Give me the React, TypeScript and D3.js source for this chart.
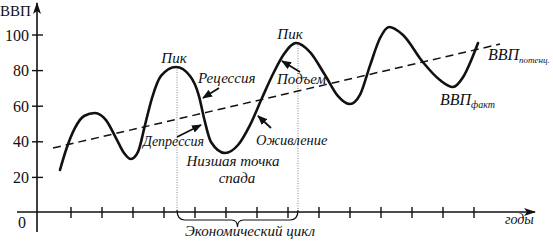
import React from "react";
import * as d3 from "d3";

// Actual GDP curve (x in "years", y in GDP units)
const gdpX = [0.645, 0.839, 1.129, 1.419, 1.774, 2.129, 2.452, 2.71, 2.935, 3.161, 3.387, 3.613, 3.903, 4.387, 4.839, 5.129, 5.29, 5.516, 5.968, 6.387, 6.774, 7.161, 7.548, 7.871, 8.258, 8.71, 9.194, 9.613, 10.0, 10.32, 10.65, 10.97, 11.26, 11.71, 12.35, 12.9, 13.32, 13.65, 13.94, 14.13];
const gdpY = [24.2, 35.4, 47.8, 54.5, 56.2, 52.2, 42.1, 33.7, 30.3, 34.3, 49.4, 64.6, 77.0, 82.0, 77.0, 65.7, 53.4, 39.9, 33.7, 38.2, 49.4, 64.6, 79.2, 89.3, 95.5, 90.4, 77.5, 65.7, 61.2, 66.3, 83.1, 98.3, 104.5, 100.0, 84.8, 74.7, 70.8, 76.4, 87.1, 95.5];

// Potential GDP trend line
const trendX = [0.42, 14.84];
const trendY = [36.5, 94.9];

// Axis ticks
const yTicks = [20, 40, 60, 80, 100];
const xTicks = [1, 2, 3, 4, 5, 6, 7, 8, 9, 10, 11, 12, 13, 14];

// Peaks marking the economic cycle
const cycleStart = 4.387;
const cycleEnd = 8.258;

const W = 553;
const H = 241;
const serif = "Liberation Serif, DejaVu Serif, Times New Roman, serif";

export default function App() {
  const x = d3.scaleLinear().domain([0, 16]).range([40, 536]);
  const y = d3.scaleLinear().domain([0, 100]).range([213, 35]);
  const axisX = 37;
  const axisY = 212;

  const pts: [number, number][] = gdpX.map((v, i) => [v, gdpY[i]]);
  const line = d3
    .line<[number, number]>()
    .x((d) => x(d[0]))
    .y((d) => y(d[1]))
    .curve(d3.curveMonotoneX);
  const gdpPath = line(pts) || "";

  const trendPts: [number, number][] = trendX.map((v, i) => [v, trendY[i]]);
  const trendPath = d3
    .line<[number, number]>()
    .x((d) => x(d[0]))
    .y((d) => y(d[1]))(trendPts) || "";

  const peak1Y = y(gdpY[gdpX.indexOf(cycleStart)]);
  const peak2Y = y(gdpY[gdpX.indexOf(cycleEnd)]);
  const bx1 = x(cycleStart) + 1;
  const bx2 = x(cycleEnd) + 2;
  const bm = (bx1 + bx2) / 2;
  const bTop = 210;
  const bMid = 220;
  const bTip = 227;
  const bracePath = `M${bx1},${bTop} Q${bx1},${bMid} ${bx1 + 8},${bMid} L${bm - 6},${bMid} Q${bm},${bMid} ${bm},${bTip} Q${bm},${bMid} ${bm + 6},${bMid} L${bx2 - 8},${bMid} Q${bx2},${bMid} ${bx2},${bTop}`;

  const arrows = [
    { x1: 219, y1: 88, x2: 203, y2: 98 },
    { x1: 300, y1: 72, x2: 282, y2: 61 },
    { x1: 177, y1: 137, x2: 201, y2: 125 },
    { x1: 271, y1: 128, x2: 258, y2: 116 },
  ];

  const it = { style: { fontFamily: serif, fontStyle: "italic" as const }, fill: "#111" };
  const rg = { style: { fontFamily: serif }, fill: "#111" };

  return (
    <svg width={W} height={H} style={{ position: "absolute", left: 0, top: 0, background: "#fff" }}>
      <defs>
        <marker id="ah" markerUnits="userSpaceOnUse" markerWidth="10" markerHeight="8" refX="9" refY="4" orient="auto">
          <path d="M0,0 L10,4 L0,8 z" fill="#111" />
        </marker>
        <marker id="axh" markerUnits="userSpaceOnUse" markerWidth="12" markerHeight="8" refX="11" refY="4" orient="auto">
          <path d="M0,0 L12,4 L0,8 L3,4 z" fill="#111" />
        </marker>
      </defs>

      {/* axes */}
      <line x1={axisX} y1={232} x2={axisX} y2={3} stroke="#111" strokeWidth={1.6} markerEnd="url(#axh)" />
      <line x1={17} y1={axisY} x2={535} y2={axisY} stroke="#111" strokeWidth={1.6} markerEnd="url(#axh)" />
      {yTicks.map((t) => (
        <g key={"y" + t}>
          <line x1={axisX - 5} x2={axisX + 6} y1={y(t)} y2={y(t)} stroke="#111" strokeWidth={1.4} />
          <text x={29} y={y(t)} dy="0.35em" textAnchor="end" {...rg} fontSize={16}>
            {t}
          </text>
        </g>
      ))}
      {xTicks.map((t) => (
        <line key={"x" + t} x1={x(t)} x2={x(t)} y1={axisY - 5} y2={axisY + 6} stroke="#111" strokeWidth={1.4} />
      ))}
      <text x={22} y={228} textAnchor="middle" {...rg} fontSize={16}>0</text>
      <text x={0} y={16} {...rg} fontSize={15}>ВВП</text>
      <text x={505} y={224} {...it} fontSize={14}>годы</text>

      {/* dotted cycle bounds */}
      <line x1={x(cycleStart) + 1} x2={x(cycleStart) + 1} y1={peak1Y} y2={bTop} stroke="#666" strokeWidth={0.8} strokeDasharray="1 1.5" />
      <line x1={x(cycleEnd) + 2} x2={x(cycleEnd) + 2} y1={peak2Y} y2={bTop} stroke="#666" strokeWidth={0.8} strokeDasharray="1 1.5" />
      <path d={bracePath} fill="none" stroke="#111" strokeWidth={1.2} />
      <text x={250} y={236} textAnchor="middle" {...it} fontSize={15}>Экономический цикл</text>

      {/* trend & curve */}
      <path d={trendPath} fill="none" stroke="#111" strokeWidth={1.5} strokeDasharray="8 5" />
      <path d={gdpPath} fill="none" stroke="#111" strokeWidth={2.6} strokeLinecap="round" />

      {/* arrows */}
      {arrows.map((a, i) => (
        <line key={i} x1={a.x1} y1={a.y1} x2={a.x2} y2={a.y2} stroke="#111" strokeWidth={1.8} markerEnd="url(#ah)" />
      ))}

      {/* labels */}
      <text x={174} y={63} textAnchor="middle" {...it} fontSize={15}>Пик</text>
      <text x={290} y={39} textAnchor="middle" {...it} fontSize={15}>Пик</text>
      <text x={198} y={83} {...it} fontSize={15}>Рецессия</text>
      <text x={277} y={84} {...it} fontSize={15}>Подъем</text>
      <text x={143} y={146} {...it} fontSize={14}>Депрессия</text>
      <text x={256} y={145} {...it} fontSize={14.5}>Оживление</text>
      <text x={233} y={166} textAnchor="middle" {...it} fontSize={15}>Низшая точка</text>
      <text x={237} y={183} textAnchor="middle" {...it} fontSize={15}>спада</text>
      <text x={488} y={60} {...it} fontSize={16}>
        ВВП<tspan fontSize={9} dy={3}>потенц.</tspan>
      </text>
      <text x={440} y={105} {...it} fontSize={16}>
        ВВП<tspan fontSize={10} dy={3}>факт</tspan>
      </text>
    </svg>
  );
}
